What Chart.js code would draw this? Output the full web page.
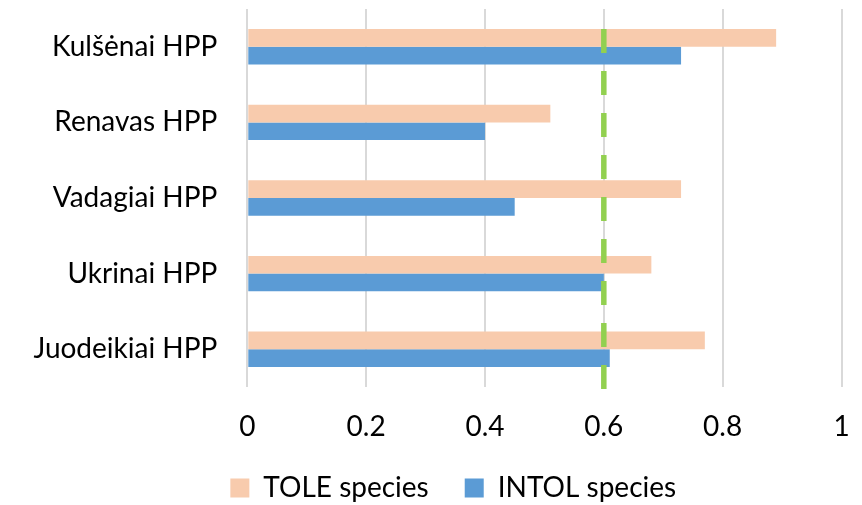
<!DOCTYPE html>
<html>
<head>
<meta charset="utf-8">
<script src="https://cdn.jsdelivr.net/npm/chart.js@4/dist/chart.umd.min.js"></script>
<style>
  html, body { margin: 0; padding: 0; background: #ffffff; }
  #wrap { width: 862px; height: 505px; }
</style>
</head>
<body>
<div id="wrap"><canvas id="c" width="862" height="505"></canvas></div>
<script>
// Hydropower plant sites
const categories = ['Kulšėnai HPP', 'Renavas HPP', 'Vadagiai HPP', 'Ukrinai HPP', 'Juodeikiai HPP'];
// Share of tolerant and intolerant species at each site
const toleSpecies = [0.89, 0.51, 0.73, 0.68, 0.77];
const intolSpecies = [0.73, 0.40, 0.45, 0.60, 0.61];
// Reference threshold drawn as a dashed vertical line
const threshold = 0.6;
const xTicks = [0, 0.2, 0.4, 0.6, 0.8, 1];

const FONT = 'Lato, "Open Sans", sans-serif';

// Dashed threshold line, positioned through the x scale
const thresholdLine = {
  id: 'thresholdLine',
  afterDatasetsDraw(chart) {
    const { ctx, chartArea, scales } = chart;
    const x = scales.x.getPixelForValue(threshold);
    const firstBar = chart.getDatasetMeta(0).data[0];
    const top = firstBar.y - firstBar.height / 2;
    ctx.save();
    ctx.strokeStyle = '#92D050';
    ctx.lineWidth = 5.5;
    ctx.setLineDash([24, 18]);
    ctx.beginPath();
    ctx.moveTo(x, top);
    ctx.lineTo(x, chartArea.bottom + 2);
    ctx.stroke();
    ctx.restore();
  }
};

// Legend: fixed reserved height, then placed below the axis labels
const legendPlacement = {
  id: 'legendPlacement',
  beforeLayout(chart) {
    const lg = chart.legend;
    if (lg && !lg._fixedFit) {
      const fit = lg.fit;
      lg.fit = function () {
        fit.call(this);
        this.height = 58;
      };
      lg._fixedFit = true;
    }
  },
  afterLayout(chart) {
    const lg = chart.legend;
    lg.left = 65;
    lg.top = 438;
    lg.bottom = chart.height;
    lg.height = lg.bottom - lg.top;
  }
};

new Chart(document.getElementById('c'), {
  type: 'bar',
  data: {
    labels: categories,
    datasets: [
      { label: 'TOLE species', data: toleSpecies, backgroundColor: '#F8CBAD', borderWidth: 0 },
      { label: 'INTOL species', data: intolSpecies, backgroundColor: '#5B9BD5', borderWidth: 0 }
    ]
  },
  options: {
    indexAxis: 'y',
    responsive: false,
    animation: false,
    layout: { padding: { top: 9, right: 20.5, left: 0, bottom: 0 } },
    datasets: { bar: { barPercentage: 1, categoryPercentage: 0.468 } },
    scales: {
      x: {
        min: 0, max: 1,
        afterBuildTicks(axis) { axis.ticks = xTicks.map(v => ({ value: v })); },
        afterFit(scale) {
          scale.paddingLeft = 0;
          scale.paddingRight = 0;
          scale.height = 60;
        },
        grid: { color: '#D9D9D9', lineWidth: 2, drawTicks: false },
        border: { display: false },
        ticks: {
          color: '#000000',
          padding: 23,
          font: { family: FONT, size: 28 },
          callback: v => String(v)
        }
      },
      y: {
        afterFit(scale) {
          scale.paddingTop = 0;
          scale.paddingBottom = 0;
          scale.width = 247.3;
        },
        grid: { display: false, drawTicks: false },
        border: { display: false },
        ticks: {
          color: '#000000',
          padding: 30,
          font: { family: FONT, size: 28 }
        }
      }
    },
    plugins: {
      legend: {
        position: 'bottom',
        labels: {
          color: '#000000',
          boxWidth: 19,
          boxHeight: 19,
          padding: 36,
          font: { family: FONT, size: 28 }
        }
      },
      tooltip: { enabled: false }
    }
  },
  plugins: [thresholdLine, legendPlacement]
});
</script>
</body>
</html>
